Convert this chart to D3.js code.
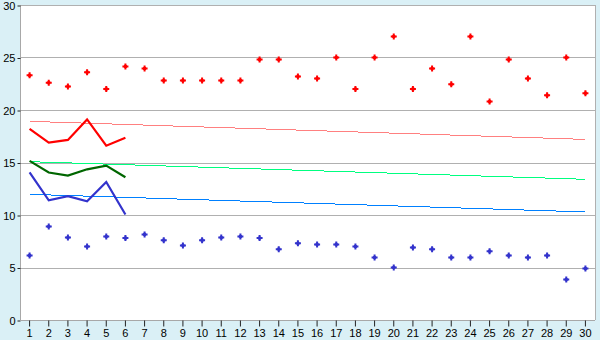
<!DOCTYPE html>
<html>
<head>
<meta charset="utf-8">
<script src="https://cdn.jsdelivr.net/npm/d3@7/dist/d3.min.js"></script>
<style>
  body { margin: 0; background: #daf0f6; }
  svg { display: block; }
</style>
</head>
<body>
<div id="graph"></div>
<script>
"use strict";

var days = d3.range(1, 31);
var yTicks = [0, 5, 10, 15, 20, 25, 30];

var redPoints = [23.3, 22.6, 22.25, 23.6, 22.0, 24.15, 23.95, 22.8, 22.8, 22.8,
                 22.8, 22.8, 24.8, 24.8, 23.2, 23.0, 25.0, 22.0, 25.0, 27.0,
                 22.0, 23.95, 22.45, 27.0, 20.8, 24.8, 23.0, 21.4, 25.0, 21.6];
var bluePoints = [6.15, 8.9, 7.85, 7.0, 7.95, 7.8, 8.15, 7.6, 7.1, 7.6,
                  7.85, 7.95, 7.8, 6.75, 7.3, 7.2, 7.2, 7.0, 5.95, 5.0,
                  6.9, 6.75, 5.95, 5.95, 6.55, 6.15, 5.95, 6.15, 3.85, 4.9];

var redLine = [18.2, 16.9, 17.15, 19.1, 16.6, 17.35];
var greenLine = [15.15, 14.05, 13.75, 14.35, 14.7, 13.6];
var blueLine = [14.05, 11.4, 11.8, 11.3, 13.15, 10.05];

// trend lines: value at day 1 and day 30
var trends = [
    { color: "#ff8080", from: 18.92, to: 17.2 },
    { color: "#00ff80", from: 15.08, to: 13.4 },
    { color: "#0080ff", from: 11.97, to: 10.29 }
];

var width = 600, height = 340;
var plotLeft = 20, plotRight = 595, plotTop = 5, plotBottom = 320;

var svg = d3.select("#graph").append("svg")
    .attr("width", width)
    .attr("height", height)
    .style("font-family", "DejaVu Sans, Verdana, sans-serif");

var x = d3.scaleBand().domain(days).range([plotLeft, plotRight]).padding(0);
var y = d3.scaleLinear().domain([0, 30]).range([plotBottom, plotTop]);
var cx = function (d) { return x(d) + x.bandwidth() / 2; };

svg.append("rect")
    .attr("x", plotLeft).attr("y", plotTop)
    .attr("width", plotRight - plotLeft).attr("height", plotBottom - plotTop)
    .attr("fill", "#fff");

// grid
svg.append("g")
    .selectAll("line")
    .data(yTicks.filter(function (t) { return t > 0; }))
    .join("line")
    .attr("x1", plotLeft).attr("x2", plotRight)
    .attr("y1", function (d) { return Math.round(y(d)) + 0.5; })
    .attr("y2", function (d) { return Math.round(y(d)) + 0.5; })
    .attr("stroke", "#b0b0b0");

svg.append("line")
    .attr("x1", plotRight + 0.5).attr("x2", plotRight + 0.5)
    .attr("y1", plotTop).attr("y2", plotBottom)
    .attr("stroke", "#b0b0b0");

// axes
var yAxis = svg.append("g")
    .attr("transform", "translate(" + (plotLeft + 0.5) + ",0.5)")
    .call(d3.axisLeft(y).tickValues(yTicks).tickSize(3).tickPadding(2));
var xAxis = svg.append("g")
    .attr("transform", "translate(0," + (plotBottom + 0.5) + ")")
    .call(d3.axisBottom(x).tickSize(6).tickPadding(3));

[yAxis, xAxis].forEach(function (a) {
    a.select(".domain").attr("stroke", "#a8a8a8");
    a.selectAll(".tick line").attr("stroke", "#222");
    a.selectAll("text").attr("fill", "#000").style("font-size", "11px");
});
yAxis.select(".domain").attr("d", "M0," + plotTop + "V" + plotBottom);
xAxis.select(".domain").attr("d", "M" + plotLeft + ",0H" + plotRight);

// trend lines
svg.append("g")
    .selectAll("line")
    .data(trends)
    .join("line")
    .attr("x1", cx(1)).attr("x2", cx(30))
    .attr("y1", function (d) { return y(d.from); })
    .attr("y2", function (d) { return y(d.to); })
    .attr("stroke", function (d) { return d.color; })
    .attr("stroke-width", 1)
    .attr("shape-rendering", "crispEdges");

// thick lines
var line = d3.line()
    .x(function (d, i) { return cx(days[i]); })
    .y(function (d) { return y(d); });

[[redLine, "#ff0000"], [greenLine, "#006600"], [blueLine, "#3333cc"]].forEach(function (s) {
    svg.append("path")
        .datum(s[0])
        .attr("d", line)
        .attr("fill", "none")
        .attr("stroke", s[1])
        .attr("stroke-width", 2.2);
});

// points: small plus with a solid centre
var cross = d3.symbol().type(d3.symbolCross).size(20);
[[redPoints, "#ff0000"], [bluePoints, "#3333cc"]].forEach(function (s) {
    var g = svg.append("g")
        .selectAll("g")
        .data(s[0])
        .join("g")
        .attr("transform", function (d, i) {
            return "translate(" + cx(days[i]) + "," + y(d) + ")";
        })
        .attr("fill", s[1]);
    g.append("path").attr("d", cross);
    g.append("rect").attr("x", -1.5).attr("y", -1.5).attr("width", 3).attr("height", 3);
});
</script>
</body>
</html>
